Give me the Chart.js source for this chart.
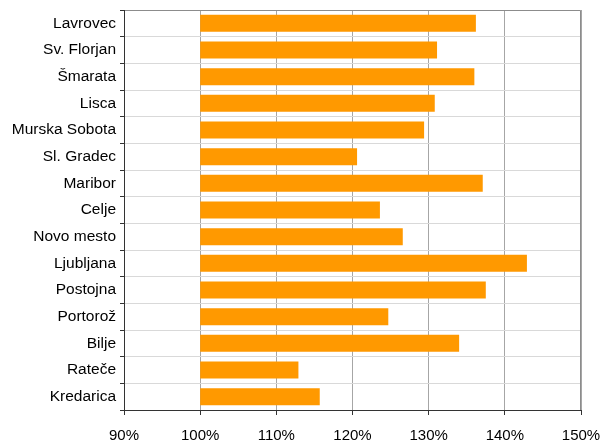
<!DOCTYPE html>
<html>
<head>
<meta charset="utf-8">
<script src="https://cdn.jsdelivr.net/npm/chart.js@4/dist/chart.umd.min.js"></script>
<style>
html,body{margin:0;padding:0;background:#fff;}
#wrap{width:604px;height:443px;}
</style>
</head>
<body>
<div id="wrap"><canvas id="c" width="604" height="443"></canvas></div>
<script>
const stations = ["Lavrovec","Sv. Florjan","Šmarata","Lisca","Murska Sobota","Sl. Gradec","Maribor","Celje","Novo mesto","Ljubljana","Postojna","Portorož","Bilje","Rateče","Kredarica"];
const values = [136.2,131.1,136.0,130.8,129.4,120.6,137.1,123.6,126.6,142.9,137.5,124.7,134.0,112.9,115.7];
const baseValue = 100;
const xTicks = [90,100,110,120,130,140,150];

const borderPlugin = {
  id:'border',
  afterDraw(chart){
    const {ctx, chartArea:a} = chart;
    ctx.save();
    ctx.strokeStyle='#8c8c8c';
    ctx.lineWidth=1;
    ctx.beginPath();
    ctx.moveTo(a.left, a.top+0.5);
    ctx.lineTo(a.right-0.5, a.top+0.5);
    ctx.lineTo(a.right-0.5, a.bottom);
    ctx.stroke();
    ctx.strokeStyle='#333';
    ctx.beginPath();
    ctx.moveTo(a.left+0.5, a.top);
    ctx.lineTo(a.left+0.5, a.bottom+0.5);
    ctx.lineTo(a.right, a.bottom+0.5);
    ctx.stroke();
    ctx.restore();
  }
};

new Chart(document.getElementById('c'), {
  type:'bar',
  data:{
    labels: stations,
    datasets:[{
      data: values.map(v => [baseValue, v]),
      backgroundColor:'#FF9900',
      borderWidth:0,
      barPercentage:0.8,
      categoryPercentage:0.8
    }]
  },
  options:{
    indexAxis:'y',
    responsive:false,
    animation:false,
    layout:{padding:{top:10,right:23,left:0,bottom:0}},
    plugins:{legend:{display:false},tooltip:{enabled:false}},
    scales:{
      x:{
        min: xTicks[0], max: xTicks[xTicks.length-1],
        afterBuildTicks(s){ s.ticks = xTicks.map(v=>({value:v})); },
        afterFit(s){ s.height = 33; s.paddingLeft = 0; s.paddingRight = 0; },
        grid:{color:'#a6a6a6', tickColor:'#333', tickLength:5, lineWidth:1},
        border:{display:true,color:'#333'},
        ticks:{color:'#000', font:{family:'"Liberation Sans", Arial, sans-serif', size:15}, padding:12, callback:v=>v+'%', maxRotation:0}
      },
      y:{
        afterFit(s){ s.width = 124; s.paddingTop = 0; s.paddingBottom = 0; },
        grid:{color:'#d9d9d9', tickColor:'#333', tickLength:4, offset:true},
        border:{display:true,color:'#333'},
        ticks:{color:'#000', font:{family:'"Liberation Sans", Arial, sans-serif', size:15.5}, padding:4, autoSkip:false}
      }
    }
  },
  plugins:[borderPlugin]
});
</script>
</body>
</html>
